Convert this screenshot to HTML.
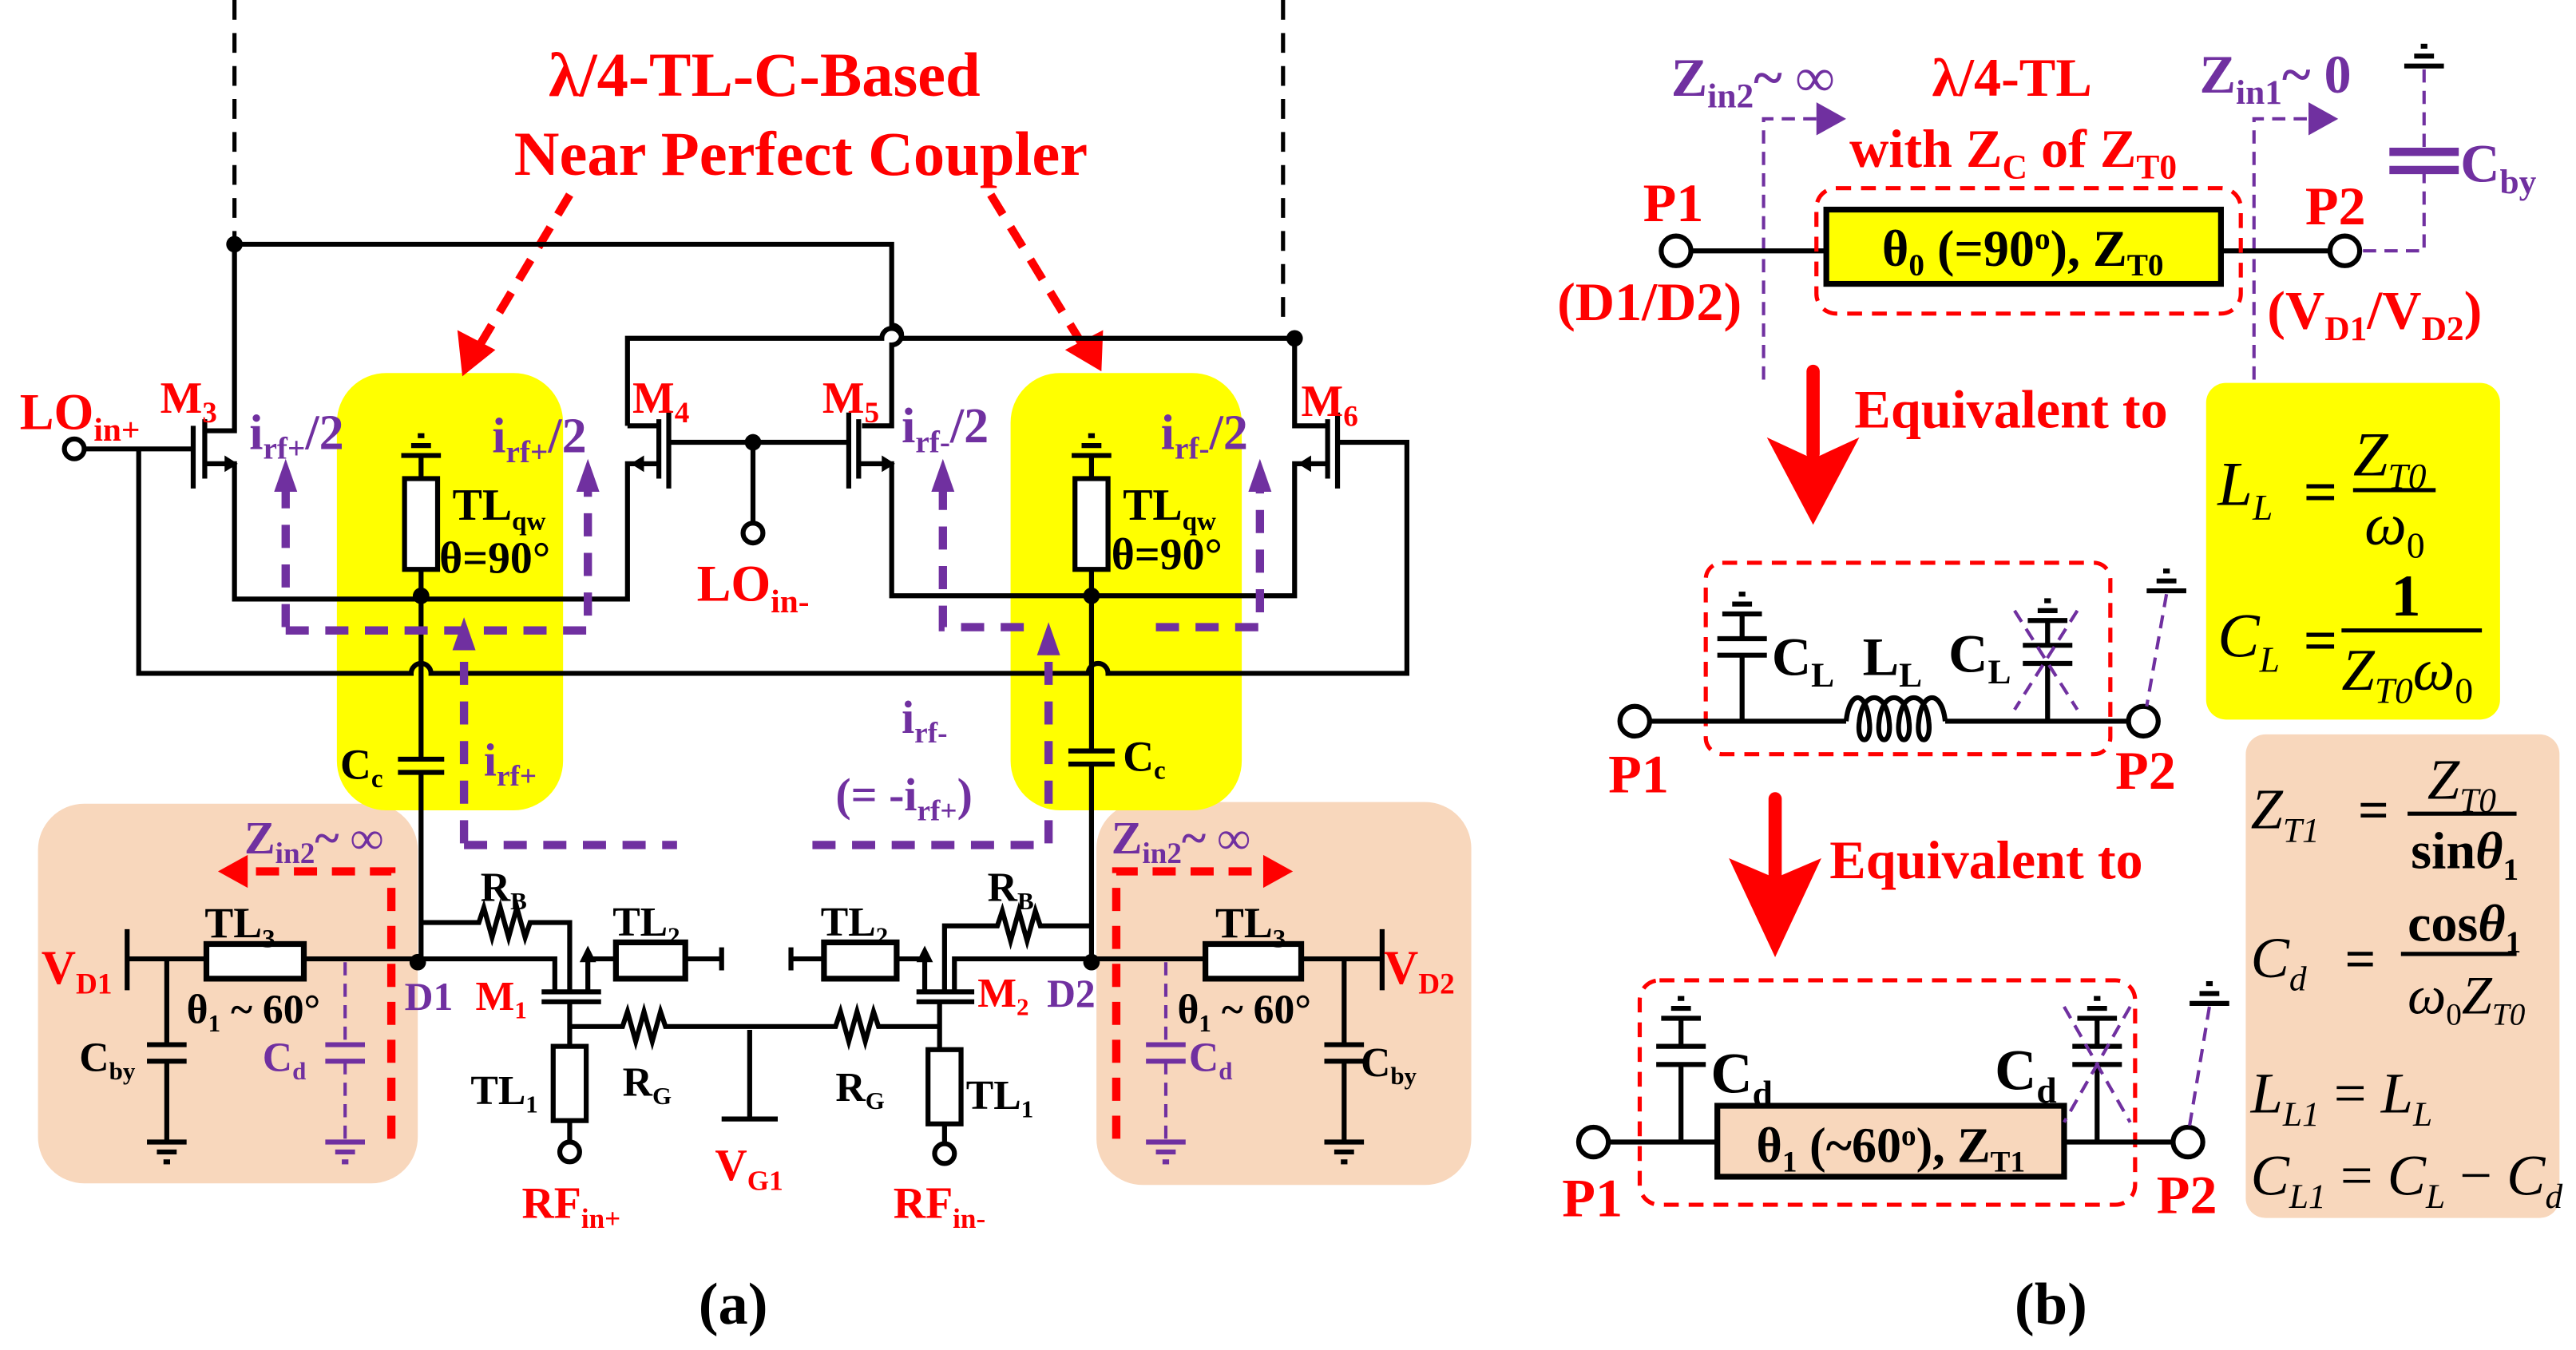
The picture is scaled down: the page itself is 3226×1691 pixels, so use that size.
<!DOCTYPE html>
<html><head><meta charset="utf-8"><style>
html,body{margin:0;padding:0;background:#fff;}
svg{display:block;}
text{font-family:"Liberation Serif",serif;font-weight:bold;}
.r{fill:#f00}.p{fill:#7030a0}.k{fill:#000}
.w{stroke:#000;stroke-width:3;fill:none}
.pd{stroke:#7030a0;stroke-width:5;fill:none;stroke-dasharray:14 10}
.pt{stroke:#7030a0;stroke-width:2;fill:none;stroke-dasharray:8 5}
.rd{stroke:#f00;stroke-width:5;fill:none;stroke-dasharray:14 9}
.rt{stroke:#f00;stroke-width:2.5;fill:none;stroke-dasharray:9 6}
text.m{font-weight:normal;font-style:italic;}
</style></head><body>
<svg width="3226" height="1691" viewBox="0 0 1560 818" preserveAspectRatio="none" xmlns="http://www.w3.org/2000/svg">
<defs>
<g id="gnd"><line x1="-12" y1="0" x2="12" y2="0" stroke="#000" stroke-width="3"/><line x1="-6" y1="6" x2="6" y2="6" stroke="#000" stroke-width="3"/><line x1="-2" y1="12" x2="2" y2="12" stroke="#000" stroke-width="3"/></g>
<g id="gndp"><line x1="-12" y1="0" x2="12" y2="0" stroke="#7030a0" stroke-width="3"/><line x1="-6" y1="6" x2="6" y2="6" stroke="#7030a0" stroke-width="3"/><line x1="-2" y1="12" x2="2" y2="12" stroke="#7030a0" stroke-width="3"/></g>
<g id="gup"><line x1="-12" y1="0" x2="12" y2="0" stroke="#000" stroke-width="3"/><line x1="-6" y1="-6" x2="6" y2="-6" stroke="#000" stroke-width="3"/><line x1="-2" y1="-12" x2="2" y2="-12" stroke="#000" stroke-width="3"/></g>
</defs>

<rect x="23" y="487" width="230" height="230" rx="28" fill="#f8d7bc"/>
<rect x="664" y="486" width="227" height="232" rx="28" fill="#f8d7bc"/>
<rect x="204" y="226" width="137" height="265" rx="30" fill="#ffff00"/>
<rect x="612" y="226" width="140" height="265" rx="30" fill="#ffff00"/>

<text x="463" y="58" class="r" font-size="38" text-anchor="middle">λ/4-TL-C-Based</text>
<text x="485" y="106" class="r" font-size="38" text-anchor="middle">Near Perfect Coupler</text>
<line x1="345" y1="118" x2="290" y2="210" class="rd"/>
<polygon points="280,228 277,200 300,212" fill="#f00"/>
<line x1="600" y1="118" x2="655" y2="208" class="rd"/>
<polygon points="667,225 645,212 668,200" fill="#f00"/>

<line x1="142" y1="0" x2="142" y2="145" stroke="#000" stroke-width="2.5" stroke-dasharray="12 8"/>
<line x1="777" y1="0" x2="777" y2="200" stroke="#000" stroke-width="2.5" stroke-dasharray="12 8"/>

<path d="M142,148 H540 V197 A6,6 0 0 1 540,209 V258 H522" class="w"/>
<path d="M380,258 V205 H534 A6,6 0 0 1 546,205 H784 V258 H804" class="w"/>
<circle cx="142" cy="148" r="5"/><circle cx="784" cy="205" r="5"/>
<path d="M142,148 V261 H124" class="w"/>
<line x1="124" y1="254" x2="124" y2="290" class="w"/>
<line x1="117" y1="258" x2="117" y2="296" class="w"/>
<path d="M124,281 H142 V363 H380 V281 H399" class="w"/>
<polygon points="136,276 144,281 136,286" fill="#000"/>
<path d="M52,272 H117" class="w"/>
<circle cx="45" cy="272" r="6" fill="#fff" stroke="#000" stroke-width="3"/>
<line x1="399" y1="254" x2="399" y2="290" class="w"/>
<line x1="405" y1="250" x2="405" y2="296" class="w"/>
<path d="M380,258 H399" class="w"/>
<polygon points="382,281 390,276 390,286" fill="#000"/>
<path d="M405,268 H514" class="w"/>
<circle cx="456" cy="268" r="5"/>
<line x1="456" y1="268" x2="456" y2="316" class="w"/>
<circle cx="456" cy="323" r="6" fill="#fff" stroke="#000" stroke-width="3"/>
<line x1="514" y1="250" x2="514" y2="296" class="w"/>
<line x1="520" y1="254" x2="520" y2="290" class="w"/>
<path d="M520,281 H540 V361 H784 V281 H804" class="w"/>
<polygon points="534,276 542,281 534,286" fill="#000"/>
<line x1="804" y1="254" x2="804" y2="290" class="w"/>
<line x1="810" y1="250" x2="810" y2="296" class="w"/>
<polygon points="786,281 794,276 794,286" fill="#000"/>
<path d="M810,268 H852 V408 H671 A6,6 0 0 0 659,408 H261 A6,6 0 0 0 249,408 H84 V272" class="w"/>
<circle cx="255" cy="361" r="5"/><circle cx="661" cy="361" r="5"/>

<use href="#gup" x="255" y="276"/>
<line x1="255" y1="276" x2="255" y2="290" class="w"/>
<rect x="245" y="290" width="20" height="55" fill="#fff" stroke="#000" stroke-width="3"/>
<line x1="255" y1="345" x2="255" y2="361" class="w"/>
<use href="#gup" x="661" y="276"/>
<line x1="661" y1="276" x2="661" y2="290" class="w"/>
<rect x="651" y="290" width="20" height="55" fill="#fff" stroke="#000" stroke-width="3"/>
<line x1="661" y1="345" x2="661" y2="361" class="w"/>

<path d="M255,361 V460 M241,460 H269 M241,468 H269 M255,468 V581" class="w"/>
<path d="M661,361 V455 M647,455 H675 M647,463 H675 M661,463 V581" class="w"/>

<text x="12" y="260" class="r" font-size="31">LO<tspan font-size="20" dy="7">in+</tspan></text>
<text x="97" y="250" class="r" font-size="27">M<tspan font-size="18" dy="6">3</tspan></text>
<text x="383" y="250" class="r" font-size="27">M<tspan font-size="18" dy="6">4</tspan></text>
<text x="498" y="250" class="r" font-size="27">M<tspan font-size="18" dy="6">5</tspan></text>
<text x="788" y="252" class="r" font-size="27">M<tspan font-size="18" dy="6">6</tspan></text>
<text x="422" y="364" class="r" font-size="31">LO<tspan font-size="20" dy="7">in-</tspan></text>
<text x="151" y="272" class="p" font-size="30">i<tspan font-size="19" dy="6">rf+</tspan><tspan dy="-6">/2</tspan></text>
<text x="298" y="274" class="p" font-size="30">i<tspan font-size="19" dy="6">rf+</tspan><tspan dy="-6">/2</tspan></text>
<text x="546" y="268" class="p" font-size="30">i<tspan font-size="19" dy="6">rf-</tspan><tspan dy="-6">/2</tspan></text>
<text x="703" y="272" class="p" font-size="30">i<tspan font-size="19" dy="6">rf-</tspan><tspan dy="-6">/2</tspan></text>
<text x="274" y="315" class="k" font-size="27">TL<tspan font-size="16" dy="6">qw</tspan></text>
<text x="266" y="347" class="k" font-size="27">θ=90°</text>
<text x="680" y="315" class="k" font-size="27">TL<tspan font-size="16" dy="6">qw</tspan></text>
<text x="673" y="345" class="k" font-size="27">θ=90°</text>
<text x="206" y="472" class="k" font-size="26">C<tspan font-size="16" dy="5">c</tspan></text>
<text x="680" y="467" class="k" font-size="26">C<tspan font-size="16" dy="5">c</tspan></text>
<text x="293" y="470" class="p" font-size="28">i<tspan font-size="18" dy="6">rf+</tspan></text>
<text x="546" y="444" class="p" font-size="28">i<tspan font-size="18" dy="6">rf-</tspan></text>
<text x="506" y="491" class="p" font-size="28">(= -i<tspan font-size="18" dy="6">rf+</tspan><tspan dy="-6">)</tspan></text>

<path d="M173,380 V295" class="pd"/><polygon points="173,278 166,298 180,298" fill="#7030a0"/>
<path d="M173,382 H356 V295" class="pd"/><polygon points="356,278 349,298 363,298" fill="#7030a0"/>
<path d="M571,295 V380 H630" class="pd"/><polygon points="571,278 564,298 578,298" fill="#7030a0"/>
<path d="M700,380 H763 V295" class="pd"/><polygon points="763,278 756,298 770,298" fill="#7030a0"/>
<path d="M281,511 V392" class="pd"/><polygon points="281,374 274,394 288,394" fill="#7030a0"/>
<path d="M281,512 H410" class="pd"/>
<path d="M492,512 H635 V395" class="pd"/><polygon points="635,377 628,397 642,397" fill="#7030a0"/>

<text x="148" y="517" class="p" font-size="28">Z<tspan font-size="18" dy="6">in2</tspan><tspan dy="-6">~ ∞</tspan></text>
<path d="M237,690 V528 H150" class="rd"/><polygon points="132,528 150,518 150,538" fill="#f00"/>
<text x="673" y="517" class="p" font-size="28">Z<tspan font-size="18" dy="6">in2</tspan><tspan dy="-6">~ ∞</tspan></text>
<path d="M676,690 V528 H765" class="rd"/><polygon points="783,528 765,518 765,538" fill="#f00"/>

<line x1="77" y1="563" x2="77" y2="600" class="w"/>
<path d="M77,581 H336 V601" class="w"/>
<rect x="125" y="572" width="59" height="21" fill="#fff" stroke="#000" stroke-width="3.5"/>
<path d="M101,581 V633 M89,633 H113 M89,643 H113 M101,643 V692" class="w"/>
<use href="#gnd" x="101" y="692"/>
<path d="M209,583 V633 M209,643 V692" class="pt"/>
<line x1="197" y1="633" x2="221" y2="633" stroke="#7030a0" stroke-width="3"/><line x1="197" y1="643" x2="221" y2="643" stroke="#7030a0" stroke-width="3"/>
<use href="#gndp" x="209" y="692"/>
<circle cx="253" cy="583" r="5"/><circle cx="661" cy="583" r="5"/>

<path d="M255,559 H290 l3,-9 l5,18 l5,-18 l5,18 l5,-18 l5,18 l3,-9 H345 V601" class="w"/>
<line x1="328" y1="601" x2="364" y2="601" class="w"/>
<line x1="328" y1="607" x2="364" y2="607" class="w"/>
<path d="M356,601 V581 H373" class="w"/><polygon points="356,573 351,583 361,583" fill="#000"/>
<rect x="373" y="571" width="42" height="22" fill="#fff" stroke="#000" stroke-width="3.5"/>
<path d="M415,581 H437 M437,574 V588" class="w"/>
<path d="M345,607 V634" class="w"/>
<rect x="335" y="634" width="20" height="45" fill="#fff" stroke="#000" stroke-width="3"/>
<path d="M345,679 V692" class="w"/><circle cx="345" cy="698" r="6" fill="#fff" stroke="#000" stroke-width="3"/>
<path d="M345,622 H377 l3,-9 l5,18 l5,-18 l5,18 l5,-18 l3,9 H506 l3,-9 l5,18 l5,-18 l5,18 l5,-18 l3,9 H569" class="w"/>
<path d="M454,624 V678 M437,678 H471" class="w"/>
<path d="M837,563 V600" class="w"/>
<path d="M837,581 H578 V601" class="w"/>
<rect x="730" y="572" width="58" height="21" fill="#fff" stroke="#000" stroke-width="3.5"/>
<path d="M814,581 V633 M802,633 H826 M802,643 H826 M814,643 V692" class="w"/>
<use href="#gnd" x="814" y="692"/>
<path d="M706,583 V633 M706,643 V692" class="pt"/>
<line x1="694" y1="633" x2="718" y2="633" stroke="#7030a0" stroke-width="3"/><line x1="694" y1="643" x2="718" y2="643" stroke="#7030a0" stroke-width="3"/>
<use href="#gndp" x="706" y="692"/>
<path d="M661,561 H630 l-3,-9 l-5,18 l-5,-18 l-5,18 l-5,-18 l-3,9 H572 V601" class="w"/>
<line x1="555" y1="601" x2="590" y2="601" class="w"/>
<line x1="555" y1="607" x2="590" y2="607" class="w"/>
<path d="M560,601 V581 H543" class="w"/><polygon points="560,573 555,583 565,583" fill="#000"/>
<rect x="499" y="571" width="44" height="22" fill="#fff" stroke="#000" stroke-width="3.5"/>
<path d="M499,581 H479 M479,574 V588" class="w"/>
<path d="M569,607 V636" class="w"/>
<rect x="562" y="636" width="20" height="45" fill="#fff" stroke="#000" stroke-width="3"/>
<path d="M572,681 V693" class="w"/><circle cx="572" cy="699" r="6" fill="#fff" stroke="#000" stroke-width="3"/>

<text x="124" y="568" class="k" font-size="26">TL<tspan font-size="16" dy="6">3</tspan></text>
<text x="736" y="568" class="k" font-size="26">TL<tspan font-size="16" dy="6">3</tspan></text>
<text x="25" y="596" class="r" font-size="29">V<tspan font-size="18" dy="6">D1</tspan></text>
<text x="838" y="596" class="r" font-size="29">V<tspan font-size="18" dy="6">D2</tspan></text>
<text x="113" y="620" class="k" font-size="25">θ<tspan font-size="15" dy="5">1</tspan><tspan dy="-5"> ~ 60°</tspan></text>
<text x="713" y="620" class="k" font-size="25">θ<tspan font-size="15" dy="5">1</tspan><tspan dy="-5"> ~ 60°</tspan></text>
<text x="245" y="612" class="p" font-size="24">D1</text>
<text x="634" y="610" class="p" font-size="24">D2</text>
<text x="288" y="612" class="r" font-size="25">M<tspan font-size="15" dy="5">1</tspan></text>
<text x="592" y="610" class="r" font-size="25">M<tspan font-size="15" dy="5">2</tspan></text>
<text x="291" y="546" class="k" font-size="25">R<tspan font-size="15" dy="5">B</tspan></text>
<text x="598" y="546" class="k" font-size="25">R<tspan font-size="15" dy="5">B</tspan></text>
<text x="371" y="567" class="k" font-size="25">TL<tspan font-size="15" dy="5">2</tspan></text>
<text x="497" y="567" class="k" font-size="25">TL<tspan font-size="15" dy="5">2</tspan></text>
<text x="48" y="649" class="k" font-size="25">C<tspan font-size="15" dy="5">by</tspan></text>
<text x="824" y="652" class="k" font-size="25">C<tspan font-size="15" dy="5">by</tspan></text>
<text x="159" y="649" class="p" font-size="25">C<tspan font-size="15" dy="5">d</tspan></text>
<text x="720" y="649" class="p" font-size="25">C<tspan font-size="15" dy="5">d</tspan></text>
<text x="285" y="669" class="k" font-size="25">TL<tspan font-size="15" dy="5">1</tspan></text>
<text x="585" y="672" class="k" font-size="25">TL<tspan font-size="15" dy="5">1</tspan></text>
<text x="377" y="664" class="k" font-size="25">R<tspan font-size="15" dy="5">G</tspan></text>
<text x="506" y="667" class="k" font-size="25">R<tspan font-size="15" dy="5">G</tspan></text>
<text x="433" y="715" class="r" font-size="27">V<tspan font-size="17" dy="6">G1</tspan></text>
<text x="316" y="738" class="r" font-size="27">RF<tspan font-size="17" dy="6">in+</tspan></text>
<text x="541" y="738" class="r" font-size="27">RF<tspan font-size="17" dy="6">in-</tspan></text>
<text x="423" y="802" class="k" font-size="36" font-weight="normal">(<tspan font-weight="bold">a</tspan>)</text>
<text x="1220" y="802" class="k" font-size="36" font-weight="normal">(<tspan font-weight="bold">b</tspan>)</text>

<!-- (b) -->
<text x="1012" y="58" class="p" font-size="33">Z<tspan font-size="21" dy="7">in2</tspan><tspan dy="-7">~ ∞</tspan></text>
<text x="1170" y="58" class="r" font-size="33">λ/4-TL</text>
<text x="1120" y="101" class="r" font-size="33">with Z<tspan font-size="21" dy="7">C</tspan><tspan dy="-7"> of Z</tspan><tspan font-size="21" dy="7">T0</tspan></text>
<text x="1332" y="56" class="p" font-size="33">Z<tspan font-size="21" dy="7">in1</tspan><tspan dy="-7">~ 0</tspan></text>
<path d="M1068,230 V72 H1100" class="pt" stroke-width="2.5"/><polygon points="1118,72 1100,62 1100,82" fill="#7030a0"/>
<path d="M1365,230 V72 H1398" class="pt" stroke-width="2.5"/><polygon points="1416,72 1398,62 1398,82" fill="#7030a0"/>
<use href="#gup" x="1468" y="40"/>
<path d="M1468,42 V92 M1468,103 V152 H1425" class="pt" stroke-width="2.5"/>
<line x1="1447" y1="92" x2="1489" y2="92" stroke="#7030a0" stroke-width="5"/>
<line x1="1447" y1="103" x2="1489" y2="103" stroke="#7030a0" stroke-width="5"/>
<text x="1490" y="110" class="p" font-size="33">C<tspan font-size="21" dy="7">by</tspan></text>
<text x="995" y="134" class="r" font-size="33">P1</text>
<text x="1396" y="136" class="r" font-size="33">P2</text>
<text x="943" y="194" class="r" font-size="33">(D1/D2)</text>
<text x="1373" y="199" class="r" font-size="33">(V<tspan font-size="21" dy="7">D1</tspan><tspan dy="-7">/V</tspan><tspan font-size="21" dy="7">D2</tspan><tspan dy="-7">)</tspan></text>
<line x1="1022" y1="152" x2="1413" y2="152" class="w"/>
<circle cx="1015" cy="152" r="9" fill="#fff" stroke="#000" stroke-width="3"/>
<circle cx="1420" cy="152" r="9" fill="#fff" stroke="#000" stroke-width="3"/>
<rect x="1100" y="114" width="257" height="76" rx="12" class="rt"/>
<rect x="1106" y="127" width="239" height="45" fill="#ffff00" stroke="#000" stroke-width="3.5"/>
<text x="1225" y="161" class="k" font-size="31" font-weight="normal" text-anchor="middle">θ<tspan font-size="19" dy="6">0</tspan><tspan dy="-6"> (=90</tspan><tspan font-size="19" dy="-10">o</tspan><tspan dy="10">), Z</tspan><tspan font-size="19" dy="6">T0</tspan></text>

<line x1="1098" y1="225" x2="1098" y2="275" stroke="#f00" stroke-width="8" stroke-linecap="round"/>
<polygon points="1070,265 1098,278 1126,265 1098,318" fill="#f00"/>
<text x="1123" y="259" class="r" font-size="33">Equivalent to</text>

<rect x="1336" y="232" width="178" height="204" rx="12" fill="#ffff00"/>
<text x="1343" y="306" class="k m" font-size="38">L<tspan font-size="22" dy="9">L</tspan></text>
<text x="1395" y="310" class="k" font-size="36" font-weight="normal">=</text>
<text x="1425" y="288" class="k m" font-size="38">Z<tspan font-size="22" dy="8">T0</tspan></text>
<line x1="1425" y1="297" x2="1475" y2="297" stroke="#000" stroke-width="2.5"/>
<text x="1432" y="330" class="k m" font-size="36">ω<tspan font-size="22" dy="8" font-style="normal">0</tspan></text>
<text x="1343" y="398" class="k m" font-size="38">C<tspan font-size="22" dy="9">L</tspan></text>
<text x="1395" y="400" class="k" font-size="36" font-weight="normal">=</text>
<text x="1448" y="373" class="k" font-size="36" font-weight="normal">1</text>
<line x1="1418" y1="382" x2="1503" y2="382" stroke="#000" stroke-width="2.5"/>
<text x="1418" y="418" class="k m" font-size="36">Z<tspan font-size="22" dy="8">T0</tspan><tspan dy="-8">ω</tspan><tspan font-size="22" dy="8" font-style="normal">0</tspan></text>

<rect x="1033" y="341" width="245" height="116" rx="10" class="rt"/>
<line x1="998" y1="437" x2="1118" y2="437" class="w"/>
<path d="M1118,437 C1120,418 1130,418 1132,437 C1134,452 1124,452 1126,437 C1128,418 1142,418 1144,437 C1146,452 1136,452 1138,437 C1140,418 1154,418 1156,437 C1158,452 1148,452 1150,437 C1152,418 1166,418 1168,437 C1170,452 1160,452 1162,437 C1164,418 1176,418 1178,437" class="w"/>
<line x1="1178" y1="437" x2="1291" y2="437" class="w"/>
<circle cx="990" cy="437" r="9" fill="#fff" stroke="#000" stroke-width="3"/>
<circle cx="1298" cy="437" r="9" fill="#fff" stroke="#000" stroke-width="3"/>
<path d="M1055,437 V397 M1040,397 H1070 M1040,387 H1070 M1055,387 V372" class="w"/>
<use href="#gup" x="1055" y="372"/>
<path d="M1240,437 V402 M1225,402 H1255 M1225,391 H1255 M1240,391 V376" class="w"/>
<use href="#gup" x="1240" y="376"/>
<line x1="1220" y1="370" x2="1258" y2="430" class="pt" stroke-width="2.5"/>
<line x1="1258" y1="370" x2="1220" y2="430" class="pt" stroke-width="2.5"/>
<use href="#gup" x="1312" y="358"/>
<line x1="1312" y1="360" x2="1300" y2="428" class="pt" stroke-width="2.5"/>
<text x="1073" y="409" class="k" font-size="33">C<tspan font-size="21" dy="7">L</tspan></text>
<text x="1128" y="409" class="k" font-size="33">L<tspan font-size="21" dy="7">L</tspan></text>
<text x="1180" y="407" class="k" font-size="33">C<tspan font-size="21" dy="7">L</tspan></text>
<text x="974" y="480" class="r" font-size="33">P1</text>
<text x="1281" y="478" class="r" font-size="33">P2</text>

<line x1="1075" y1="484" x2="1075" y2="530" stroke="#f00" stroke-width="8" stroke-linecap="round"/>
<polygon points="1047,520 1075,532 1103,520 1075,580" fill="#f00"/>
<text x="1108" y="532" class="r" font-size="33">Equivalent to</text>

<rect x="1360" y="445" width="190" height="293" rx="12" fill="#f8d7bc"/>
<text x="1363" y="502" class="k m" font-size="35">Z<tspan font-size="21" dy="8">T1</tspan></text>
<text x="1428" y="502" class="k" font-size="33" font-weight="normal">=</text>
<text x="1470" y="484" class="k m" font-size="35">Z<tspan font-size="21" dy="8">T0</tspan></text>
<line x1="1458" y1="493" x2="1524" y2="493" stroke="#000" stroke-width="2.5"/>
<text x="1460" y="526" class="k" font-size="32" font-weight="normal">sin<tspan font-style="italic">θ</tspan><tspan font-size="19" dy="7">1</tspan></text>
<text x="1363" y="592" class="k m" font-size="35">C<tspan font-size="21" dy="8">d</tspan></text>
<text x="1420" y="592" class="k" font-size="33" font-weight="normal">=</text>
<text x="1458" y="570" class="k" font-size="32" font-weight="normal">cos<tspan font-style="italic">θ</tspan><tspan font-size="19" dy="7">1</tspan></text>
<line x1="1454" y1="578" x2="1524" y2="578" stroke="#000" stroke-width="2.5"/>
<text x="1458" y="614" class="k m" font-size="33">ω<tspan font-size="19" dy="7" font-style="normal">0</tspan><tspan dy="-7">Z</tspan><tspan font-size="19" dy="7">T0</tspan></text>
<text x="1363" y="674" class="k m" font-size="35">L<tspan font-size="21" dy="8">L1</tspan><tspan dy="-8" font-style="normal"> = </tspan><tspan>L</tspan><tspan font-size="21" dy="8">L</tspan></text>
<text x="1363" y="724" class="k m" font-size="35">C<tspan font-size="21" dy="8">L1</tspan><tspan dy="-8" font-style="normal"> = </tspan><tspan>C</tspan><tspan font-size="21" dy="8">L</tspan><tspan dy="-8" font-style="normal"> − </tspan><tspan>C</tspan><tspan font-size="21" dy="8">d</tspan></text>

<rect x="993" y="594" width="300" height="136" rx="12" class="rt"/>
<line x1="973" y1="692" x2="1318" y2="692" class="w"/>
<circle cx="965" cy="692" r="9" fill="#fff" stroke="#000" stroke-width="3"/>
<circle cx="1325" cy="692" r="9" fill="#fff" stroke="#000" stroke-width="3"/>
<rect x="1040" y="670" width="210" height="43" fill="#f8d7bc" stroke="#000" stroke-width="3.5"/>
<text x="1145" y="704" class="k" font-size="30" font-weight="normal" text-anchor="middle">θ<tspan font-size="18" dy="6">1</tspan><tspan dy="-6"> (~60</tspan><tspan font-size="18" dy="-10">o</tspan><tspan dy="10">), Z</tspan><tspan font-size="18" dy="6">T1</tspan></text>
<path d="M1018,692 V645 M1003,645 H1033 M1003,634 H1033 M1018,634 V617" class="w"/>
<use href="#gup" x="1018" y="617"/>
<path d="M1270,692 V645 M1255,645 H1285 M1255,634 H1285 M1270,634 V617" class="w"/>
<use href="#gup" x="1270" y="617"/>
<line x1="1250" y1="610" x2="1290" y2="680" class="pt" stroke-width="2.5"/>
<line x1="1290" y1="610" x2="1250" y2="680" class="pt" stroke-width="2.5"/>
<use href="#gup" x="1338" y="608"/>
<line x1="1338" y1="610" x2="1326" y2="682" class="pt" stroke-width="2.5"/>
<text x="1036" y="662" class="k" font-size="35">C<tspan font-size="22" dy="8">d</tspan></text>
<text x="1208" y="660" class="k" font-size="35">C<tspan font-size="22" dy="8">d</tspan></text>
<text x="946" y="737" class="r" font-size="33">P1</text>
<text x="1306" y="735" class="r" font-size="33">P2</text>
</svg>
</body></html>
